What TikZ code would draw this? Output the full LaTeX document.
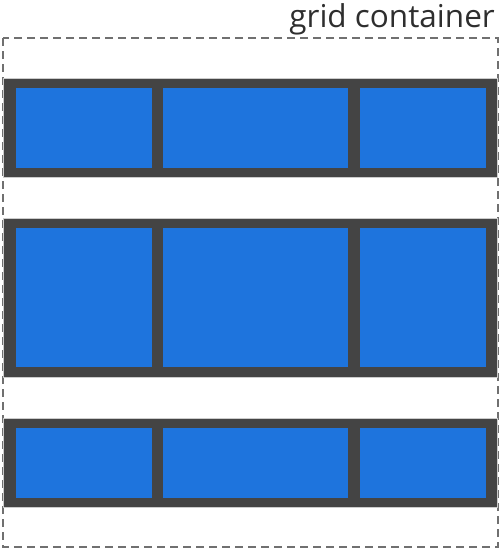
\documentclass[tikz,border=0pt]{standalone}
\usepackage{fontspec}
\setmainfont{Open Sans}
\definecolor{cellblue}{HTML}{1E74DD}
\definecolor{framegray}{HTML}{444444}
\definecolor{dashgray}{HTML}{707070}
\begin{document}
\begin{tikzpicture}[x=1pt,y=-1pt,
  rowband/.style={draw=gray!40,line width=1pt,fill=framegray},
  cellbox/.style={fill=cellblue},
  container/.style={draw=dashgray,line width=1.6pt,dash pattern=on 8pt off 5pt}]
\useasboundingbox (0,0) rectangle (502,550);
\draw[container] (3,38) rectangle (498,547);
\node[anchor=base east,inner sep=0,font=\fontsize{31.5}{34}\selectfont,text=black!82] (lbl) at (495,27) {grid container};
% row bands
\foreach \n/\t/\b in {r1/78/177, r2/218/377, r3/418/507}{
  \draw[rowband] (3,\t) rectangle (497,\b);
}
% cells
\foreach \r/\t/\b in {1/88/168, 2/228/367, 3/428/498}{
  \foreach \c/\l/\rr in {1/16/152, 2/163/348, 3/360/486}{
    \fill[cellbox] (\l,\t) rectangle (\rr,\b);
  }
}
\end{tikzpicture}
\end{document}
